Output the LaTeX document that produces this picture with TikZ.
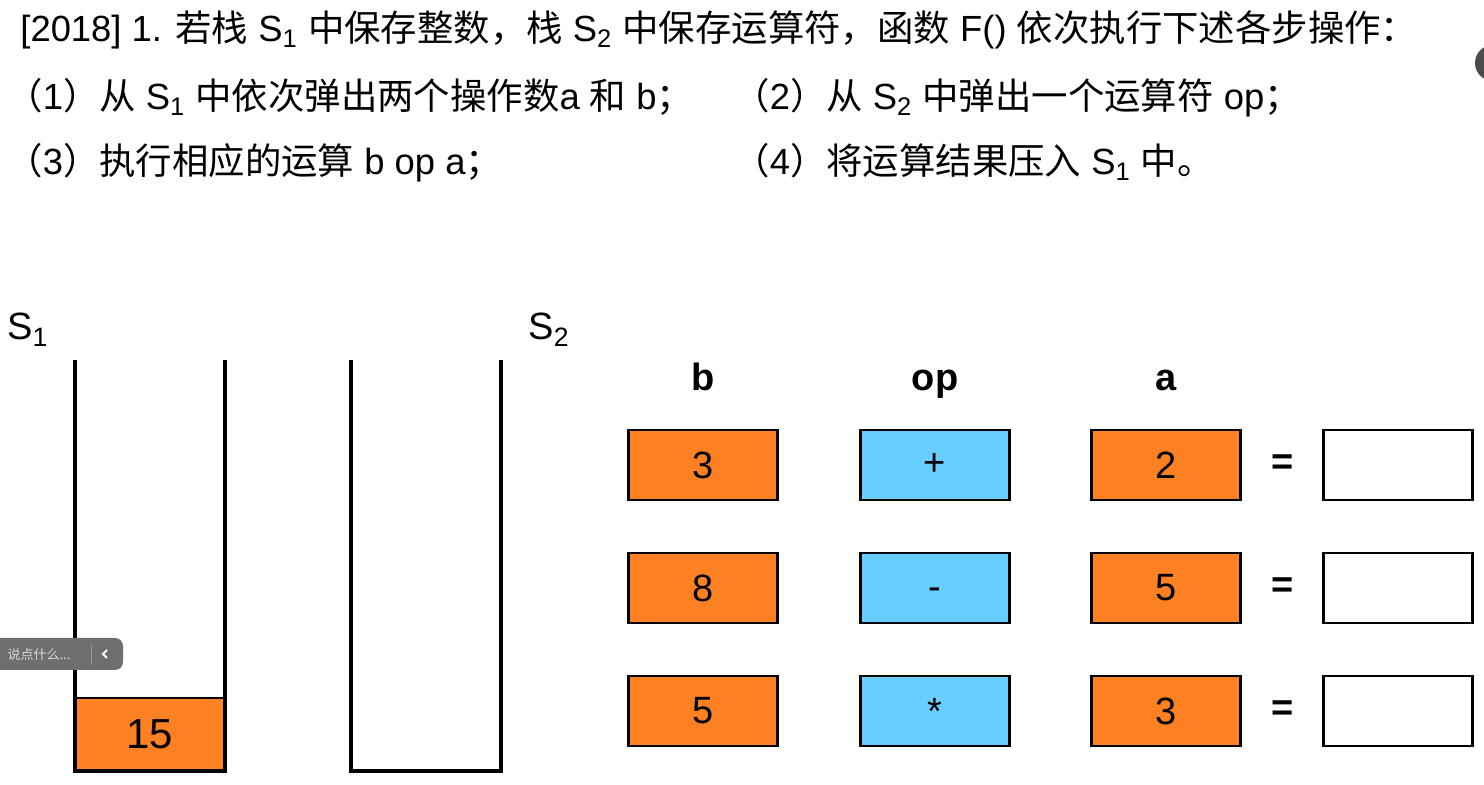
\documentclass[tikz,border=0pt]{standalone}
\usepackage{fontspec}
\setmainfont{Liberation Sans}
\newfontfamily\cjk{Noto Sans CJK SC}
\newcommand{\zh}[1]{{\cjk #1}}
\newcommand{\sub}[1]{\textsubscript{#1}}
\definecolor{boxorange}{RGB}{253,128,34}
\definecolor{opblue}{RGB}{104,205,255}
\definecolor{overlaygray}{RGB}{110,110,110}

\begin{document}
\begin{tikzpicture}[x=0.5pt,y=-0.5pt,
            textline/.style={anchor=base west,inner sep=0pt,font=\fontsize{18.2}{21}\selectfont},
            stacklabel/.style={anchor=base west,inner sep=0pt,font=\fontsize{19}{22}\selectfont},
            stackwall/.style={line width=2pt},
            numbox/.style={draw,line width=1.2pt,fill=boxorange,minimum width=74.5pt,minimum height=35pt,inner sep=0pt,font=\fontsize{19}{22}\selectfont},
            opbox/.style={numbox,fill=opblue},
            resbox/.style={numbox,fill=white},
            head/.style={anchor=base,inner sep=0pt,font=\bfseries\fontsize{19}{22}\selectfont}
            ]
            \useasboundingbox (0,0) rectangle (1484,785);
            % question text
            \node[textline] (q0) at (20,42) {[2018] 1. \zh{若栈} S\sub{1} \zh{中保存整数，栈} S\sub{2} \zh{中保存运算符，函数} F() \zh{依次执行下述各步操作：}};
            \node[textline] (q1) at (6,110) {\zh{（}1\zh{）从} S\sub{1} \zh{中依次弹出两个操作数}a \zh{和} b\zh{；}};
            \node[textline] (q2) at (733,110) {\zh{（}2\zh{）从} S\sub{2} \zh{中弹出一个运算符} op\zh{；}};
            \node[textline] (q3) at (6,175) {\zh{（}3\zh{）执行相应的运算} b op a\zh{；}};
            \node[textline] (q4) at (733,175) {\zh{（}4\zh{）将运算结果压入} S\sub{1} \zh{中。}};
            % stacks
            \node[stacklabel] (s1label) at (7,340) {S\sub{1}};
            \node[stacklabel] (s2label) at (528,340) {S\sub{2}};
            \node[numbox,minimum width=75pt,minimum height=36.5pt,font=\fontsize{21}{24}\selectfont] (top15) at (150,734.5) {15};
            \draw[stackwall] (75,360) -- (75,771) -- (225,771) -- (225,360);
            \draw[stackwall] (351,360) -- (351,771) -- (501,771) -- (501,360);
            % b op a = ?
            \node[head] (hb) at (703,391) {b};
            \node[head] (hop) at (935,391) {op};
            \node[head] (ha) at (1166,391) {a};
            \foreach \row/\y/\b/\op/\a in {1/465/3/+/2, 2/588/8/\raisebox{-5.7pt}[0pt][0pt]{-}/5, 3/711/5/*/3} {
                \node[numbox] (b\row) at (703,\y) {\b};
                \node[opbox] (op\row) at (935,\y) {\op};
                \node[numbox] (a\row) at (1166,\y) {\a};
                \node[inner sep=0pt,font=\bfseries\fontsize{19}{22}\selectfont] (eq\row) at (1283,\y) {=};
                \node[resbox] (res\row) at (1398,\y) {};
            }
            % player overlay
            \fill[overlaygray,rounded corners=4pt] (-10,638) rectangle (123,670);
            \node[inner sep=0pt,text=white!85!black,font=\cjk\fontsize{6.5}{8}\selectfont] (say) at (39,655) {说点什么...};
            \draw[white!60!black,line width=0.5pt] (91,645) -- (91,665);
            \draw[white,line width=1pt] (107,650) -- (103,654) -- (107,658);
            \fill[black!70] (1493,63) circle (18);
\end{tikzpicture}
\end{document}
